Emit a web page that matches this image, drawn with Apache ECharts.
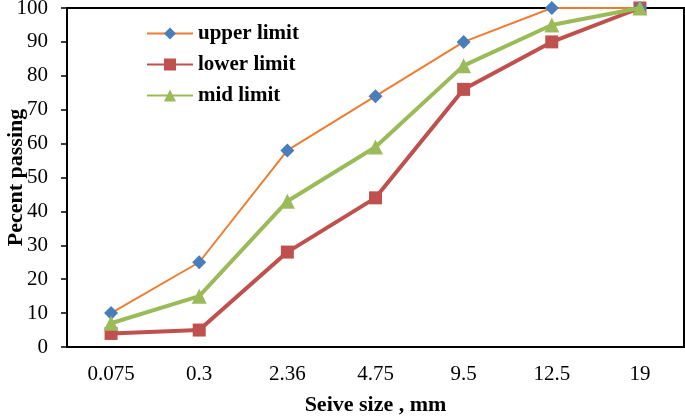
<!DOCTYPE html>
<html><head><meta charset="utf-8">
<script src="https://cdn.jsdelivr.net/npm/echarts@6/dist/echarts.min.js"></script>
<style>html,body{margin:0;padding:0;background:#fff}#c{width:685px;height:416px}</style>
</head><body><div id="c"></div>
<script>
var categories = ['0.075','0.3','2.36','4.75','9.5','12.5','19'];
var upperLimit = [10,25,58,74,90,100,100];
var lowerLimit = [4,5,28,44,76,90,100];
var midLimit = [7,15,43,59,83,95,100];

var chart = echarts.init(document.getElementById('c'));
var font = 'Liberation Serif';
chart.setOption({
  animation:false,
  backgroundColor:'#fff',
  grid:{left:67,right:1,top:8,bottom:69,show:true,borderColor:'#000',borderWidth:2,containLabel:false,outerBoundsMode:'none'},
  legend:{
    orient:'vertical', left:141, top:18, itemWidth:46, itemHeight:15, itemGap:10,
    textStyle:{fontFamily:font,fontSize:21,fontWeight:'bold',color:'#000'},
    data:['upper limit','lower limit','mid limit']
  },
  xAxis:{
    type:'category', data:categories, boundaryGap:true,
    axisLine:{lineStyle:{color:'#000',width:2}},
    axisTick:{show:false},
    axisLabel:{fontFamily:font,fontSize:21,color:'#000',margin:17},
    name:'Seive size , mm', nameLocation:'middle', nameGap:47, nameMoveOverlap:false,
    nameTextStyle:{fontFamily:font,fontSize:22,fontWeight:'bold',color:'#000'}
  },
  yAxis:{
    type:'value', min:0, max:100, interval:10,
    axisLine:{show:true,lineStyle:{color:'#000',width:2}},
    axisTick:{show:true,length:6,lineStyle:{color:'#000',width:1.5}},
    splitLine:{show:false},
    axisLabel:{fontFamily:font,fontSize:21,color:'#000',margin:19},
    name:'Pecent passing', nameLocation:'middle', nameGap:40, nameMoveOverlap:false,
    nameTextStyle:{fontFamily:font,fontSize:22,fontWeight:'bold',color:'#000'}
  },
  series:[
    {name:'upper limit',type:'line',data:upperLimit,symbol:'diamond',symbolSize:14,
     lineStyle:{color:'#ED7D31',width:2},itemStyle:{color:'#4A7EBB'},z:3},
    {name:'lower limit',type:'line',data:lowerLimit,symbol:'rect',symbolSize:13,
     lineStyle:{color:'#C0504D',width:4},itemStyle:{color:'#C0504D'},z:2},
    {name:'mid limit',type:'line',data:midLimit,symbol:'triangle',symbolSize:15,
     lineStyle:{color:'#9BBB59',width:4},itemStyle:{color:'#9BBB59'},z:4}
  ]
});
</script></body></html>
